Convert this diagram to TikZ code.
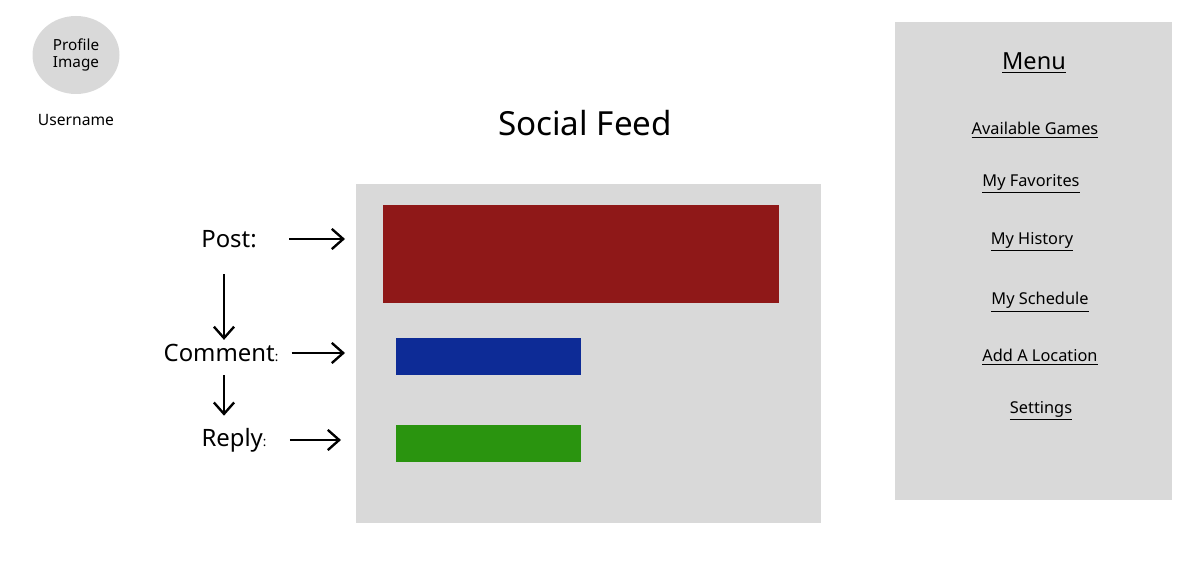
\documentclass[tikz,border=0pt]{standalone}
\usepackage{fontspec}
\setmainfont{Noto Sans}
\usepackage{tikz}
\usetikzlibrary{arrows.meta,calc,positioning,shapes.geometric}

\definecolor{panelgray}{HTML}{D9D9D9}
\definecolor{postred}{HTML}{8F1818}
\definecolor{commentblue}{HTML}{0D2B96}
\definecolor{replygreen}{HTML}{2A940F}

\newdimen\pxu
\pxu=0.02cm

\begin{document}
\begin{tikzpicture}[
  x=0.02cm, y=-0.02cm,
  panel/.style={rectangle, fill=panelgray, draw=none, anchor=north west, inner sep=0pt},
  bar/.style={rectangle, draw=none, anchor=north west, inner sep=0pt},
  feed label/.style={inner sep=0pt, font=\fontsize{13.6}{15}\selectfont},
  menu item/.style={inner sep=0pt, font=\fontsize{9.3}{11}\selectfont},
  flow/.style={-{Straight Barb[length=6.5pt, width=11.5pt]}, line width=1.35pt}
]
  \useasboundingbox (0,0) rectangle (1188,580);

  % profile corner
  \node[ellipse, fill=panelgray, minimum width=87\pxu, minimum height=78\pxu, inner sep=0pt,
        align=center, font=\fontsize{8.7}{10.2}\selectfont] (avatar) at (76,55) {Profile\\Image};
  \node[inner sep=0pt, font=\fontsize{8.9}{10}\selectfont] (user) at (76,120) {Username};

  \node[inner sep=0pt, font=\fontsize{18.9}{21}\selectfont] (title) at (585,123) {Social Feed};

  % feed panel with the three entries
  \node[panel, minimum width=465\pxu, minimum height=339\pxu] (feed) at (356,184) {};
  \node[bar, fill=postred, minimum width=396\pxu, minimum height=98\pxu] (postbar) at (383,205) {};
  \node[bar, fill=commentblue, minimum width=185\pxu, minimum height=37\pxu] (commentbar) at (396,338) {};
  \node[bar, fill=replygreen, minimum width=185\pxu, minimum height=37\pxu] (replybar) at (396,425) {};

  \node[feed label] (post) at (229,239) {Post:};
  \node[feed label] (comment) at (221,353) {Comment{\fontsize{7.5}{8}\selectfont:}};
  \node[feed label] (reply) at (234,440) {Reply{\fontsize{7.5}{8}\selectfont:}};

  \draw[flow, shorten <=32\pxu, shorten >=38\pxu] (post.east) -- (postbar.west |- post.east);
  \draw[flow, shorten <=13\pxu, shorten >=51\pxu] (comment.east) -- (commentbar.west |- comment.east);
  \draw[flow, shorten <=23\pxu, shorten >=55\pxu] (reply.east) -- (replybar.west |- reply.east);

  % chain down from post to reply
  \coordinate (chain) at (224,0);
  \draw[flow, shorten <=26\pxu, shorten >=4\pxu] (post.south -| chain) -- (comment.north -| chain);
  \draw[flow, shorten <=13\pxu, shorten >=12\pxu] (comment.south -| chain) -- (reply.north -| chain);

  % side menu
  \node[panel, minimum width=277\pxu, minimum height=478\pxu] (menu) at (895,22) {};
  \node[inner sep=0pt, font=\fontsize{13.4}{15}\selectfont] (menutitle) at (1034,63) {\underline{Menu}};
  \node[menu item] (games) at (1035,130) {\underline{Available Games}};
  \node[menu item] (favorites) at (1031,184) {\underline{My Favorites}};
  \node[menu item] (history) at (1032,242) {\underline{My History}};
  \node[menu item] (schedule) at (1040,302) {\underline{My Schedule}};
  \node[menu item] (location) at (1040,357) {\underline{Add A Location}};
  \node[menu item] (settings) at (1041,411) {\underline{Settings}};
\end{tikzpicture}
\end{document}
